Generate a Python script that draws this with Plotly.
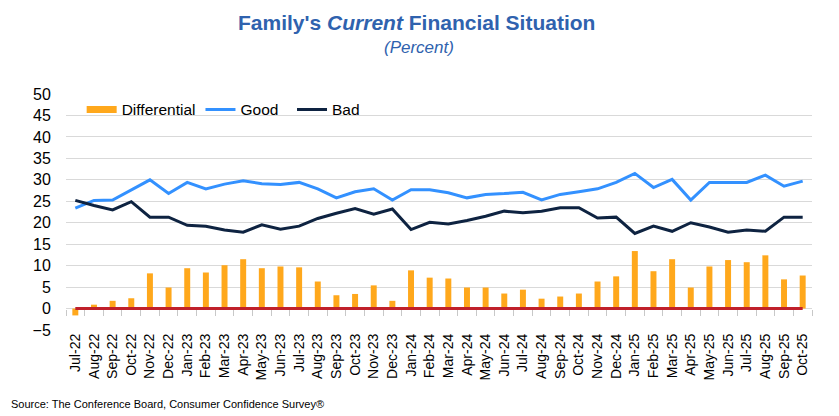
import plotly.graph_objects as go

months = ["Jul-22","Aug-22","Sep-22","Oct-22","Nov-22","Dec-22",
          "Jan-23","Feb-23","Mar-23","Apr-23","May-23","Jun-23","Jul-23","Aug-23","Sep-23","Oct-23","Nov-23","Dec-23",
          "Jan-24","Feb-24","Mar-24","Apr-24","May-24","Jun-24","Jul-24","Aug-24","Sep-24","Oct-24","Nov-24","Dec-24",
          "Jan-25","Feb-25","Mar-25","Apr-25","May-25","Jun-25","Jul-25","Aug-25","Sep-25","Oct-25"]

good = [23.4, 25.2, 25.3, 27.7, 30.0, 26.8,
        29.4, 27.9, 29.0, 29.8, 29.1, 28.9, 29.4, 27.9, 25.8, 27.2, 27.9, 25.3,
        27.7, 27.7, 27.0, 25.8, 26.6, 26.8, 27.1, 25.3, 26.6, 27.2, 27.9, 29.4,
        31.5, 28.2, 30.1, 25.3, 29.4, 29.4, 29.4, 31.1, 28.5, 29.7]

bad = [25.2, 24.0, 23.0, 24.9, 21.3, 21.3,
       19.4, 19.2, 18.3, 17.8, 19.5, 18.5, 19.2, 21.0, 22.2, 23.3, 22.0, 23.2,
       18.4, 20.1, 19.7, 20.5, 21.5, 22.7, 22.3, 22.7, 23.5, 23.5, 21.1, 21.3,
       17.5, 19.2, 18.0, 20.0, 19.0, 17.8, 18.3, 18.0, 21.3, 21.3]

differential = [-1.6, 0.9, 1.8, 2.4, 8.2, 4.9,
                9.4, 8.4, 10.1, 11.5, 9.4, 9.8, 9.6, 6.3, 3.1, 3.4, 5.4, 1.8,
                8.9, 7.2, 7.0, 4.9, 4.9, 3.5, 4.4, 2.3, 2.8, 3.5, 6.3, 7.5,
                13.4, 8.7, 11.5, 4.9, 9.8, 11.3, 10.8, 12.4, 6.8, 7.7]

zero_line = [0] * len(months)

FONT = "Liberation Sans, Arial, sans-serif"
ORANGE = "#FFA81C"

fig = go.Figure()
fig.add_trace(go.Bar(x=months, y=differential, name="Differential", showlegend=False,
                     legendgroup="diff", marker=dict(color=ORANGE, line=dict(width=0))))
# legend entry for the bars (wide rectangle swatch like the original)
fig.add_trace(go.Scatter(x=[None], y=[None], name="Differential", mode="lines",
                         legendgroup="diff", line=dict(color=ORANGE, width=7)))
fig.add_trace(go.Scatter(x=months, y=good, name="Good\u00a0\u00a0", mode="lines",
                         line=dict(color="#3391FF", width=3)))
fig.add_trace(go.Scatter(x=months, y=bad, name="Bad", mode="lines",
                         line=dict(color="#0E2341", width=3)))
fig.add_trace(go.Scatter(x=months, y=zero_line, mode="lines", showlegend=False,
                         line=dict(color="#C0202A", width=3), xaxis="x2", hoverinfo="skip"))

# the page body adds an 8px offset, so margins are reduced by 8px at top/left
fig.update_layout(
    width=839, height=416,
    margin=dict(l=58, r=35, t=86, b=94, autoexpand=False),
    paper_bgcolor="white", plot_bgcolor="white",
    font=dict(family=FONT, color="black"),
    bargap=0.68,
    showlegend=True,
    legend=dict(orientation="h", x=0.021, y=0.933, xanchor="left", yanchor="middle",
                font=dict(size=15.5), bgcolor="rgba(0,0,0,0)",
                traceorder="normal"),
    xaxis=dict(type="category", categoryorder="array", categoryarray=months,
               tickangle=-90, tickfont=dict(size=14), showgrid=False,
               ticks="", showline=False, zeroline=False, automargin=False),
    xaxis2=dict(type="category", matches="x", overlaying="x", anchor="free",
                position=5/55, ticks="outside", tickson="boundaries", ticklen=6,
                tickcolor="#C8C8C8", showticklabels=False, showgrid=False,
                showline=False, zeroline=False, automargin=False),
    yaxis=dict(range=[-5, 50], dtick=5, tick0=0, tickfont=dict(size=16),
               showgrid=True, gridcolor="#D9D9D9", gridwidth=1, zeroline=False,
               showline=False, ticks="outside", ticklen=11, tickcolor="rgba(0,0,0,0)",
               automargin=False),
)

fig.add_annotation(text="<b>Family's <i>Current</i> Financial Situation</b>",
                   xref="paper", yref="paper", x=0.4705, y=1.305,
                   xanchor="center", yanchor="middle", showarrow=False,
                   font=dict(family=FONT, size=21, color="#2F62AE"))
fig.add_annotation(text="<i>(Percent)</i>",
                   xref="paper", yref="paper", x=0.473, y=1.197,
                   xanchor="center", yanchor="middle", showarrow=False,
                   font=dict(family=FONT, size=17, color="#2F62AE"))
fig.add_annotation(text="Source: The Conference Board, Consumer Confidence Survey®",
                   xref="paper", yref="paper", x=-0.077, y=-0.3156,
                   xanchor="left", yanchor="middle", showarrow=False,
                   font=dict(family=FONT, size=11, color="black"))

fig.write_html("out.html")
